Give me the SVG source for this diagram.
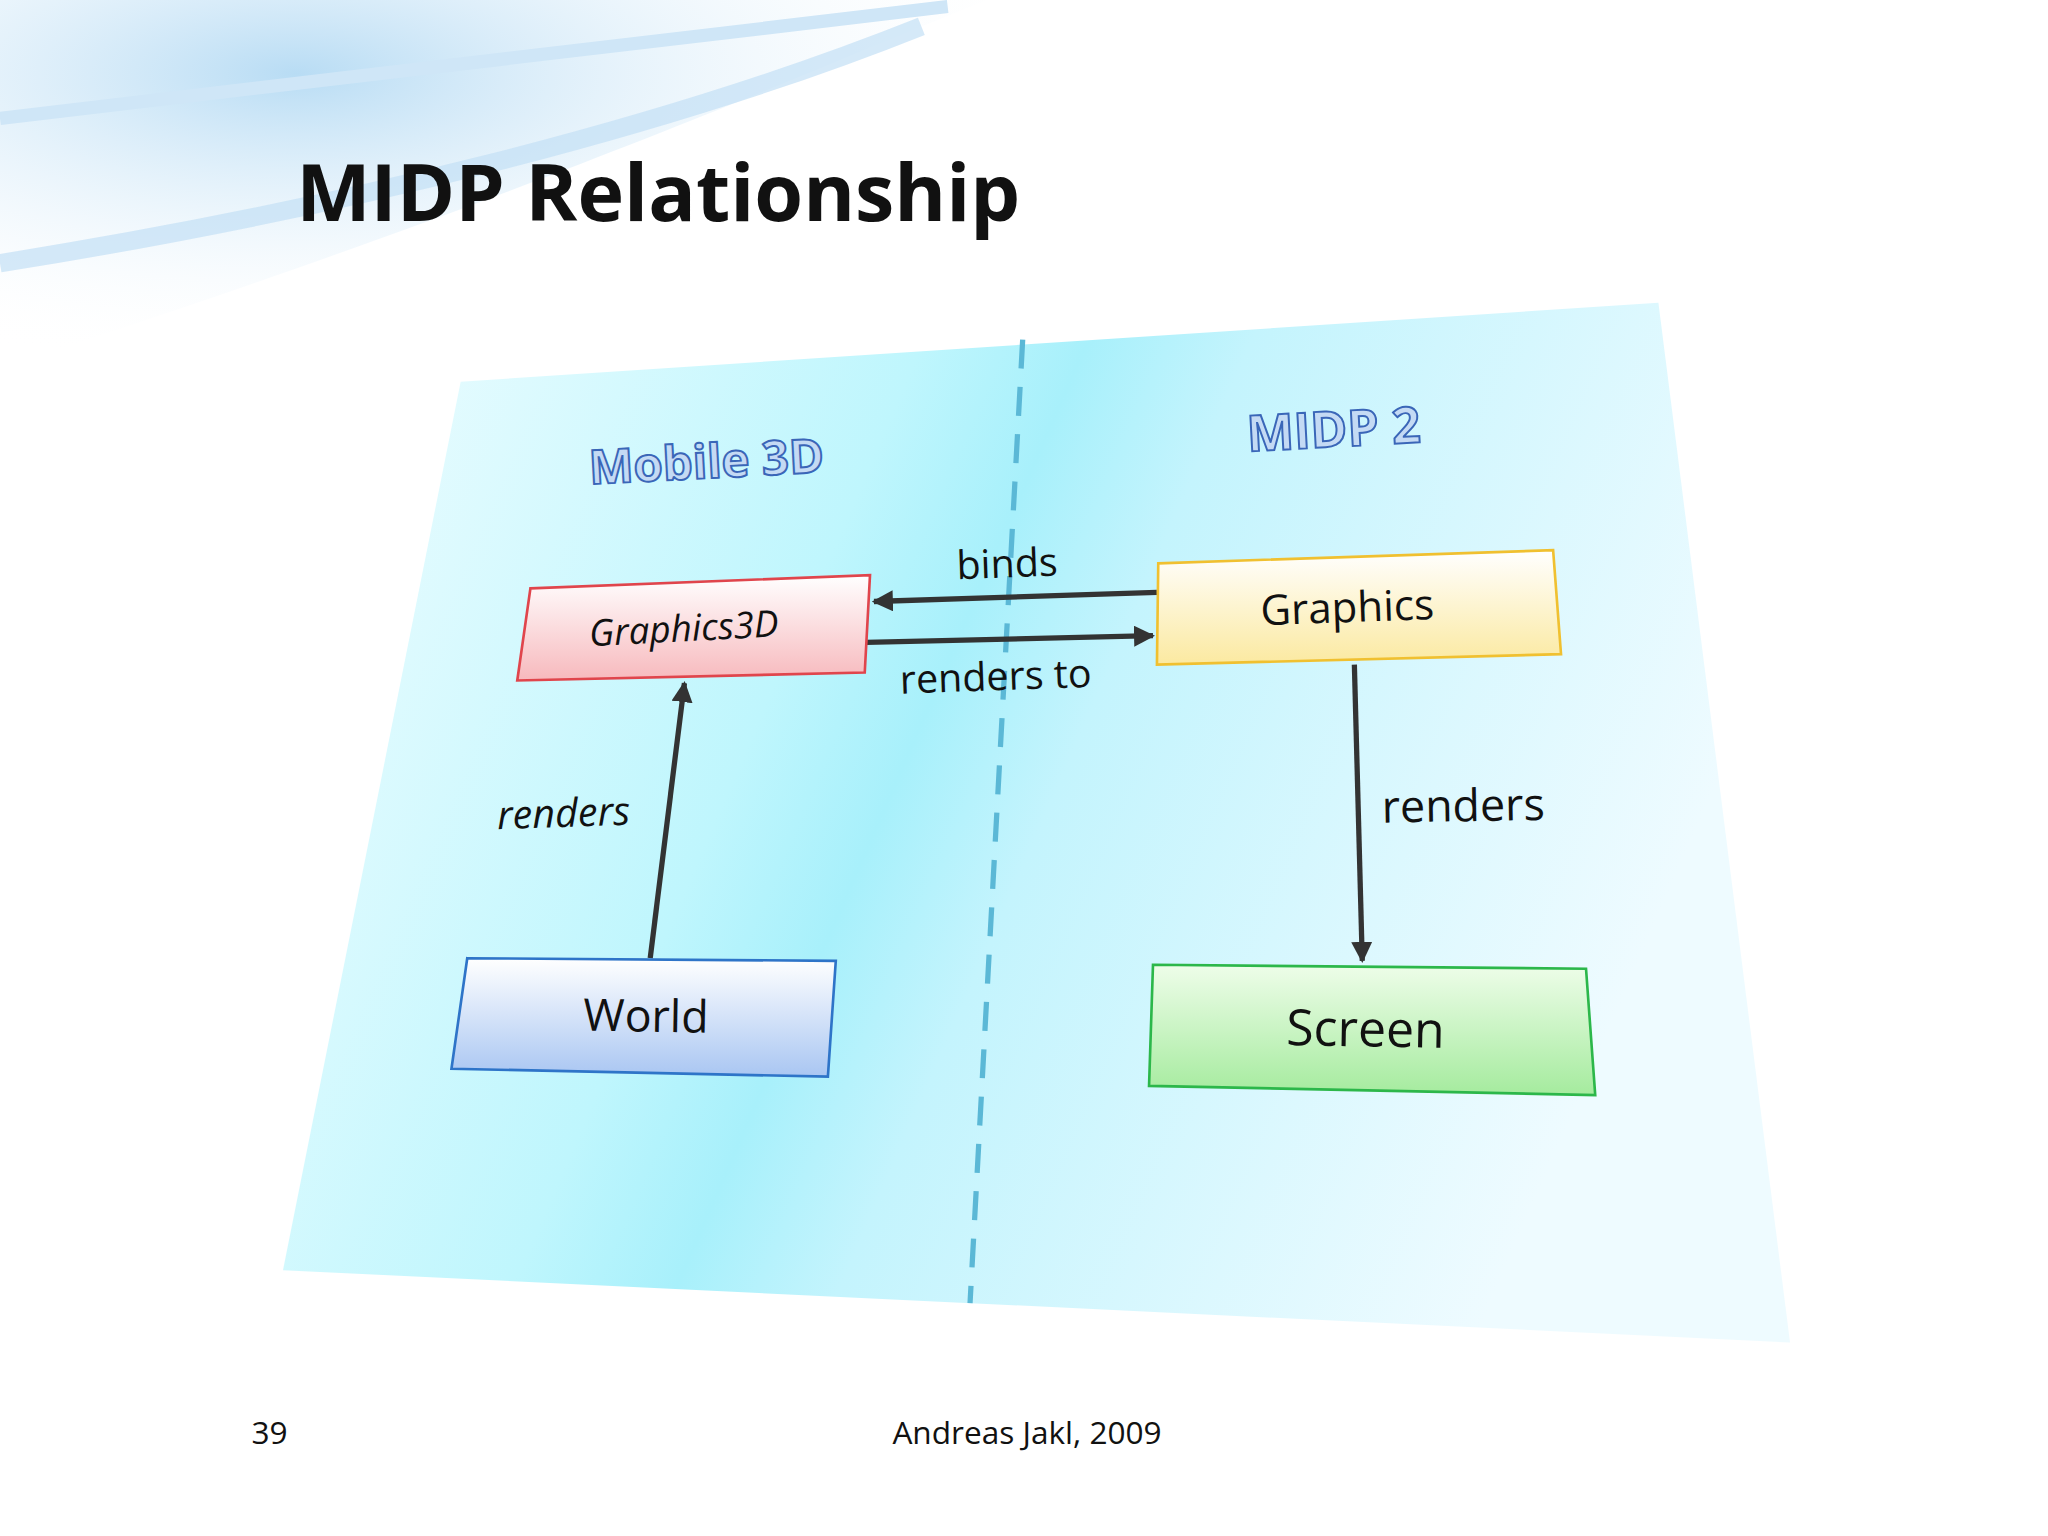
<svg xmlns="http://www.w3.org/2000/svg" width="2048" height="1536" viewBox="0 0 2048 1536">
<defs>
<linearGradient id="panel" x1="0" y1="0" x2="1" y2="0.3">
<stop offset="0" stop-color="#f2fdff"/><stop offset="0.4" stop-color="#bff6fd"/><stop offset="0.5" stop-color="#a8f0fb"/><stop offset="0.6" stop-color="#c4f4fd"/><stop offset="1" stop-color="#eefbff"/>
</linearGradient>
<radialGradient id="sw" cx="0.3" cy="0.2" r="0.8"><stop offset="0" stop-color="#b8dcf4"/><stop offset="1" stop-color="#ffffff" stop-opacity="0"/></radialGradient>
<linearGradient id="gr" x1="0" y1="0" x2="0" y2="1"><stop offset="0" stop-color="#fff"/><stop offset="1" stop-color="#f7b9bd"/></linearGradient>
<linearGradient id="gy" x1="0" y1="0" x2="0" y2="1"><stop offset="0" stop-color="#fff"/><stop offset="1" stop-color="#fbe9a0"/></linearGradient>
<linearGradient id="gb" x1="0" y1="0" x2="0" y2="1"><stop offset="0" stop-color="#fff"/><stop offset="1" stop-color="#a9c6f2"/></linearGradient>
<linearGradient id="gg" x1="0" y1="0" x2="0" y2="1"><stop offset="0" stop-color="#eefde9"/><stop offset="1" stop-color="#a5eb9e"/></linearGradient>
<marker id="ah" viewBox="0 0 10 10" refX="9" refY="5" markerWidth="4" markerHeight="4" orient="auto"><path d="M0,0L10,5L0,10z" fill="#333"/></marker>
<style>
.t{font-family:"Open Sans","Liberation Sans",sans-serif;fill:#111}
.c{stroke:#333;stroke-width:4;fill:none;marker-end:url(#ah)}
.h{font-family:"Open Sans","Liberation Sans",sans-serif;font-weight:bold;fill:#c4daf4;stroke:#3a66b8;stroke-width:1.5}
</style>
</defs>
<rect width="2048" height="1536" fill="#fff"/>
<g transform="scale(1.3162)">
<path d="M0,0 L750,0 C600,60 400,150 0,280 Z" fill="url(#sw)"/>
<path d="M0,90 C250,60 500,30 720,5" stroke="#cfe6f7" stroke-width="10" fill="none"/>
<path d="M0,200 C250,160 500,100 700,20" stroke="#c3e0f5" stroke-width="14" fill="none" opacity="0.7"/>
<text x="225" y="168" class="t" font-size="60" font-weight="bold">MIDP Relationship</text>
<polygon points="350,290 1260,230 1360,1020 215,965" fill="url(#panel)"/>
<line x1="777" y1="258" x2="737" y2="990" stroke="#5bb8d6" stroke-width="4" stroke-dasharray="22,14"/>
<text class="h" font-size="36" transform="translate(448,368) rotate(-3)">Mobile 3D</text>
<text class="h" font-size="38" transform="translate(948,343) rotate(-3)">MIDP 2</text>
<g id="conn">
<line class="c" x1="879" y1="450" x2="664" y2="457"/>
<line class="c" x1="658" y1="488" x2="876" y2="483"/>
<line class="c" x1="494" y1="728" x2="520" y2="519"/>
<line class="c" x1="1029" y1="505" x2="1035" y2="730"/>
<text class="t" font-size="30" transform="translate(727,440) rotate(-2)">binds</text>
<text class="t" font-size="30" transform="translate(684,527) rotate(-2)">renders to</text>
<text class="t" font-size="30" font-style="italic" transform="translate(378,630) rotate(-2)">renders</text>
<text class="t" font-size="34" transform="translate(1050,625) rotate(-1)">renders</text>
</g>
<g id="graphics3d"><polygon points="403,447 661,437 657,511 393,517" fill="url(#gr)" stroke="#e0454c" stroke-width="2"/>
<text class="t" font-size="28" font-style="italic" transform="translate(448,491) rotate(-3)">Graphics3D</text></g>
<g id="graphics"><polygon points="880,428 1180,418 1186,497 879,505" fill="url(#gy)" stroke="#f0c030" stroke-width="2"/>
<text class="t" font-size="32" transform="translate(958,475) rotate(-2)">Graphics</text></g>
<g id="world"><polygon points="355,728 635,730 629,818 343,812" fill="url(#gb)" stroke="#2e74c8" stroke-width="2"/>
<text class="t" font-size="34" transform="translate(443,783) rotate(1)">World</text></g>
<g id="screen"><polygon points="876,733 1205,736 1212,832 873,825" fill="url(#gg)" stroke="#2cb74a" stroke-width="2"/>
<text class="t" font-size="38" transform="translate(977,794) rotate(1)">Screen</text></g>
<text x="191" y="1097" class="t" font-size="24">39</text>
<text x="678" y="1097" class="t" font-size="24">Andreas Jakl, 2009</text>
</g>
</svg>
